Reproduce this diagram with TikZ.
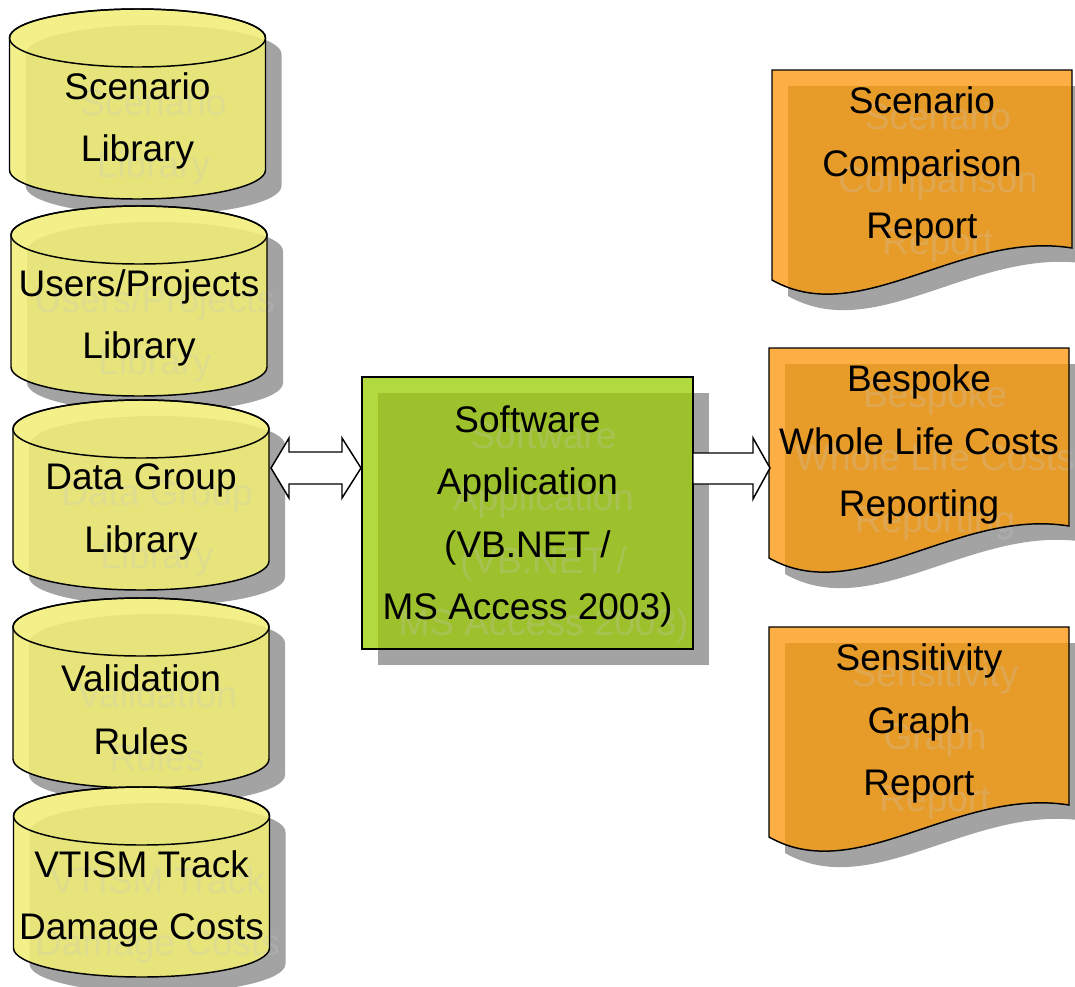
\documentclass[tikz,border=0pt]{standalone}
\usepackage{fontspec}
\setmainfont{Liberation Sans}
\usetikzlibrary{calc}

\definecolor{dblight}{HTML}{F3F089}
\definecolor{dbdark}{HTML}{E6E47A}
\definecolor{applight}{HTML}{B2DA3E}
\definecolor{appdark}{HTML}{9DC12C}
\definecolor{replight}{HTML}{FDAE44}
\definecolor{repdark}{HTML}{E79C2A}
\definecolor{shadowgray}{HTML}{A3A3A3}
\definecolor{ghostgray}{HTML}{C8C8C8}

\tikzset{
  labeltext/.style={align=center, inner sep=0pt, font=\fontsize{27.75}{46.9}\selectfont},
  ghosttext/.style={labeltext, text=ghostgray, text opacity=0.25},
  outline/.style={draw=black, line width=1.1pt},
  blockarrow/.style={draw=black, fill=white, line width=1.1pt, line join=miter},
}

% database cylinder: name, centre x, top y, text
\newcommand{\database}[4]{
  \def\cylpath{(#2-128,#3+29) -- (#2-128,#3+161) arc[start angle=180,end angle=0,x radius=128,y radius=29]
    -- (#2+128,#3+29) arc[start angle=0,end angle=-180,x radius=128,y radius=29] -- cycle}
  \fill[shadowgray, shift={(16,16)}] \cylpath;  % shadow
  \fill[dblight] \cylpath;
  \begin{scope}
    \clip \cylpath;
    \fill[dbdark, shift={(16,16)}] \cylpath;
  \end{scope}
  \node[ghosttext] (#1-g) at (#2+16,#3+128) {#4};
  \draw[outline] \cylpath;
  \draw[outline] (#2,#3+29) ellipse[x radius=128, y radius=29];  % top face
  \node[labeltext] (#1) at (#2,#3+112) {#4};
  \coordinate (#1-e) at (#2+130,#3+68);
}

% report sheet: name, left x, top y, text
\newcommand{\report}[4]{
  \def\docpath{(#2,#3) -- (#2+300,#3) -- (#2+300,#3+178)
    .. controls (#2+188,#3+160) and (#2+88,#3+260) .. (#2,#3+210) -- cycle}
  \fill[shadowgray, shift={(16,16)}] \docpath;  % shadow
  \fill[replight] \docpath;
  \begin{scope}
    \clip \docpath;
    \fill[repdark, shift={(16,16)}] \docpath;
  \end{scope}
  \node[ghosttext] (#1-g) at (#2+166,#3+112.5) {#4};
  \draw[outline] \docpath;
  \node[labeltext] (#1) at (#2+150,#3+96.5) {#4};
  \coordinate (#1-w) at (#2+1,#3+120);
}

\begin{document}
\begin{tikzpicture}[x=0.75pt, y=-0.75pt]
    \useasboundingbox (0,0) rectangle (1075,986);

    % Libraries
    \database{scenlib}{137.5}{9}{Scenario\\Library}
    \database{userlib}{139}{206}{Users/Projects\\Library}
    \database{datalib}{141}{400}{Data Group\\Library}
    \database{rulelib}{141}{598}{Validation\\Rules}
    \database{vtismlib}{141.5}{787}{VTISM Track\\Damage Costs}

    % Application
    \fill[shadowgray] (378,393) rectangle (709,665);  % shadow
    \fill[applight] (362,377) rectangle (693,649);
    \fill[appdark] (378,393) rectangle (693,649);
    \node[ghosttext] (app-g) at (543.5,532.5) {Software\\Application\\(VB.NET /\\MS Access 2003)};
    \draw[outline] (362,377) rectangle (693,649);
    \node[labeltext] (app) at (527.5,516.5) {Software\\Application\\(VB.NET /\\MS Access 2003)};
    \coordinate (app-w) at (361,468);
    \coordinate (app-e) at (693,468);

    % Reports
    \report{comprep}{772}{70}{Scenario\\Comparison\\Report}
    \report{wlcrep}{769}{348}{Bespoke\\Whole Life Costs\\Reporting}
    \report{sensrep}{769}{627}{Sensitivity\\Graph\\Report}

    % Connections
    \draw[blockarrow] (datalib-e) -- ++(18,-30) -- ++(0,14) -- ($(app-w)+(-19,-16)$) -- ++(0,-14)
        -- (app-w) -- ++(-19,30) -- ++(0,-14) -- ($(datalib-e)+(18,16)$) -- ++(0,14) -- cycle;
    \draw[blockarrow] ($(app-e)+(0,-15)$) -- ($(wlcrep-w)+(-17,-15)$) -- ++(0,-15)
        -- (wlcrep-w) -- ++(-17,31) -- ++(0,-15) -- ($(app-e)+(0,16)$) -- cycle;
\end{tikzpicture}
\end{document}
